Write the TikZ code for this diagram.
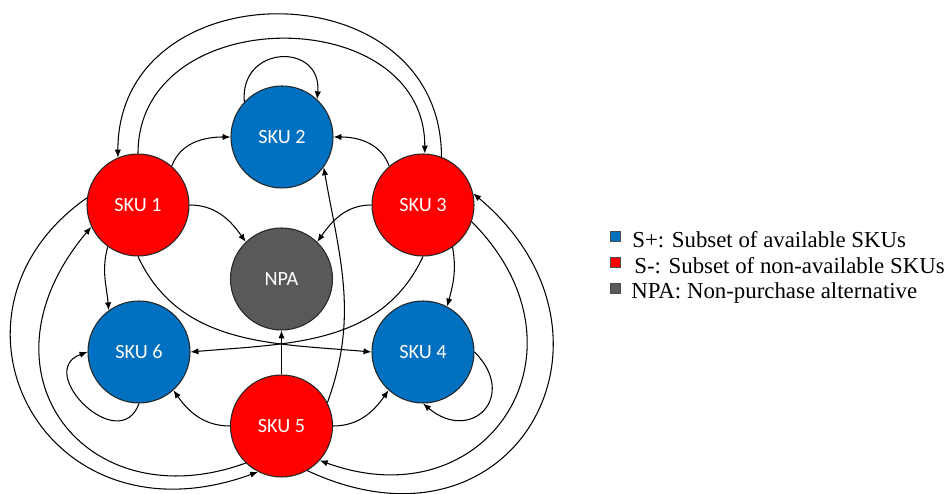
\documentclass[tikz,border=0pt]{standalone}
\usepackage{fontspec}
\setmainfont{Liberation Serif}
\newfontfamily\keyfont{Liberation Serif}
\newfontfamily\skufont{Carlito}
\usetikzlibrary{arrows.meta}
\definecolor{skublue}{RGB}{0,112,192}
\definecolor{skured}{RGB}{255,0,0}
\definecolor{npagray}{RGB}{89,89,89}

\begin{document}
\begin{tikzpicture}[
    sku/.style={circle, draw=black!85, line width=.6pt, minimum size=2.04cm, inner sep=0pt, text=white, font=\skufont\fontsize{11.5}{12}\selectfont},
    avail/.style={sku, fill=skublue},
    unavail/.style={sku, fill=skured},
    nopurchase/.style={sku, fill=npagray},
    trans/.style={line width=.6pt, black, -{Latex[length=4.5pt,width=3.6pt]}},
    keybox/.style={draw=black!70, line width=.4pt, minimum size=.2cm, inner sep=0pt},
    keytext/.style={anchor=base west, inner sep=0pt, font=\keyfont\fontsize{13}{15}\selectfont}]
  \useasboundingbox (0,0) rectangle (19.02,9.88);

  \node[avail] (s2) at (5.64,7.14) {SKU 2};
  \node[unavail] (s1) at (2.76,5.78) {SKU 1};
  \node[unavail] (s3) at (8.46,5.78) {SKU 3};
  \node[nopurchase] (npa) at (5.63,4.30) {NPA};
  \node[avail] (s6) at (2.78,2.84) {SKU 6};
  \node[avail] (s4) at (8.46,2.84) {SKU 4};
  \node[unavail] (s5) at (5.63,1.36) {SKU 5};

  \foreach \a/\b/\o/\i in {s1.49/s2.west/70/180, s3.131/s2.east/110/0,
      s1.east/npa.134/0/125, s3.west/npa.46/180/55, s5.27/s2.-36/70/-80,
      s1.234/s6.126/-105/95, s3.-55/s4.62/-80/75,
      s1.south/s4.west/-65/175, s3.south/s6.east/-115/5,
      s5.west/s6.-48/180/-55, s5.east/s4.-132/0/-125}
    \draw[trans] (\a) to[out=\o,in=\i] (\b);
  \draw[trans] (s5.north) -- (npa.south);

  \draw[trans] (s2.137) .. controls +(95:1.15) and +(85:1.15) .. (s2.47);
  \draw[trans] (s6.south) to[out=-110,in=200,looseness=2] (s6.west);
  \draw[trans] (s4.east) to[out=-45,in=-40,looseness=2.2] (s4.south);

  \draw[trans] (s3.69) .. controls +(90:3.8) and +(90:3.8) .. (s1.113);
  \draw[trans] (s1.90) .. controls +(90:3.05) and +(90:3.05) .. (s3.88);
  \draw[trans] (s1.172) .. controls +(215:4) and +(200:4.6) .. (s5.243);
  \draw[trans] (s5.226) .. controls +(200:3.4) and +(230:3.8) .. (s1.205);
  \draw[trans] (s3.-19) .. controls +(-45:3.6) and +(-20:3.6) .. (s5.-42);
  \draw[trans] (s5.-60) .. controls +(-25:4.6) and +(-40:4.4) .. (s3.13);

  \node[keybox, fill=skublue] (keyplus) at (12.30,5.16) {};
  \node[keybox, fill=skured] (keyminus) at (12.30,4.64) {};
  \node[keybox, fill=npagray] (keynpa) at (12.30,4.12) {};
  \node[keytext] (txtplus) at (12.64,4.92) {S+: Subset of available SKUs};
  \node[keytext] (txtminus) at (12.68,4.41) {S-: Subset of non-available SKUs};
  \node[keytext] (txtnpa) at (12.62,3.90) {NPA: Non-purchase alternative};
\end{tikzpicture}
\end{document}
